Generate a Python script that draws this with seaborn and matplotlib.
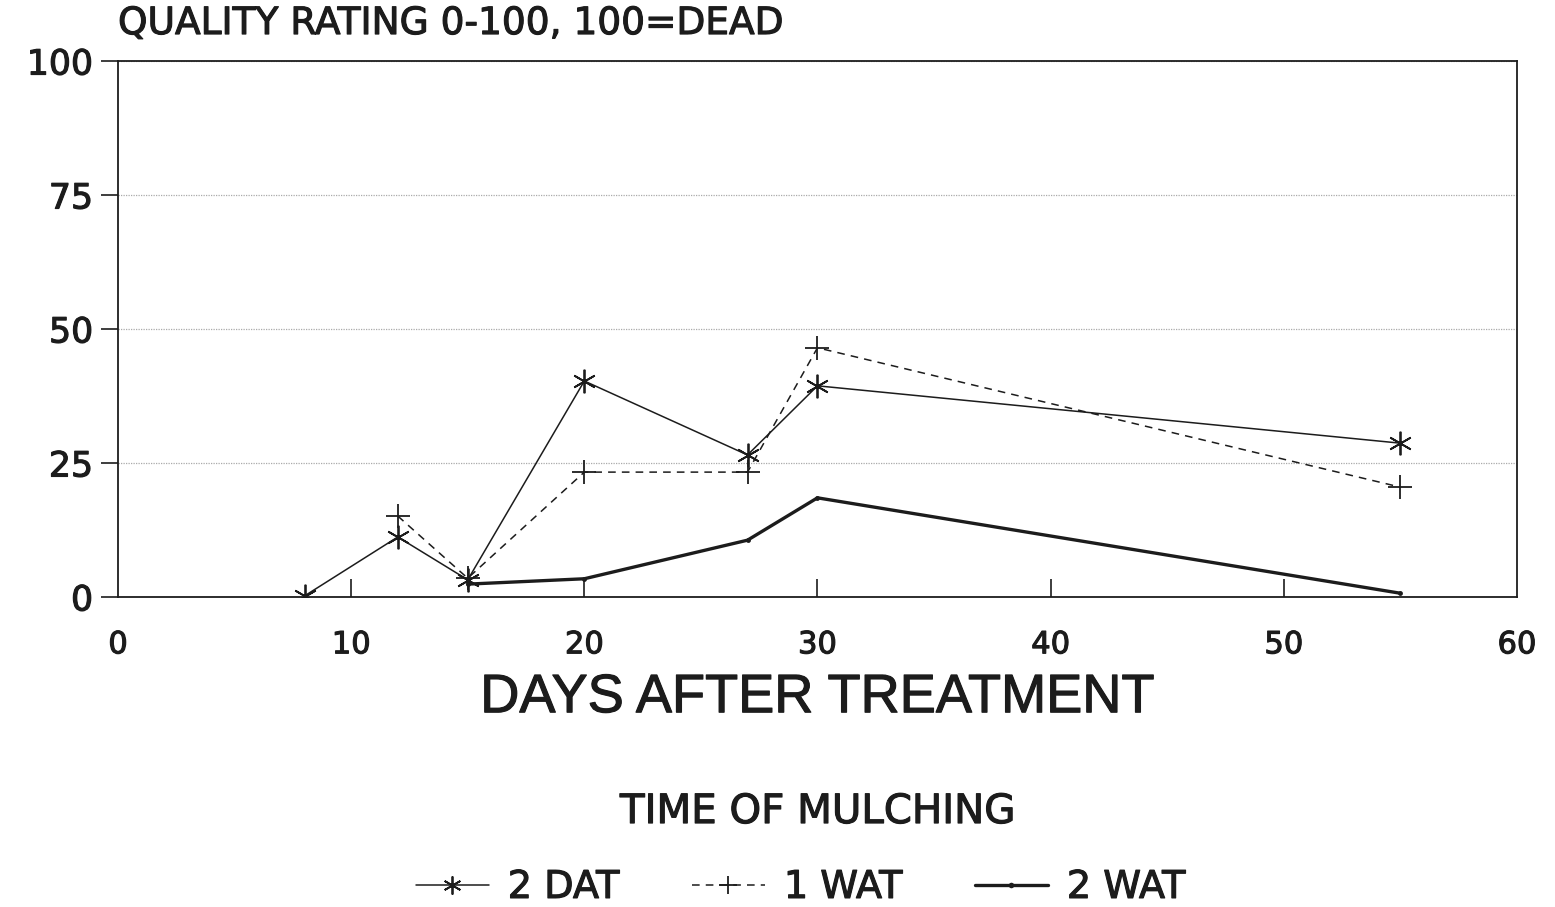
import matplotlib
matplotlib.use("Agg")
import matplotlib.pyplot as plt
import matplotlib.patheffects as pe
import seaborn as sns

# Data
days_2dat = [8, 12, 15, 20, 27, 30, 55]
rating_2dat = [0.2, 11.2, 3.2, 40.3, 26.5, 39.4, 28.7]

days_1wat = [12, 15, 20, 27, 30, 55]
rating_1wat = [15.1, 3.5, 23.3, 23.3, 46.5, 20.5]

days_2wat = [15, 20, 27, 30, 55]
rating_2wat = [2.4, 3.4, 10.6, 18.5, 0.7]

x_ticks = [0, 10, 20, 30, 40, 50, 60]
y_ticks = [0, 25, 50, 75, 100]

ink = "#1c1c1c"
sns.set_theme(style="white")
plt.rcParams['font.family'] = ['DejaVu Sans']
heavy = [pe.withStroke(linewidth=0.8, foreground=ink)]

fig, ax = plt.subplots(figsize=(15.55, 9.07), dpi=100)
fig.subplots_adjust(left=0.0759, right=0.9755, top=0.9327, bottom=0.3418)

sns.lineplot(x=days_2dat, y=rating_2dat, ax=ax, color=ink, lw=1.1,
             marker=(6, 2, 0), markersize=17, markeredgewidth=1.3,
             markeredgecolor=ink, label="2 DAT")
sns.lineplot(x=days_1wat, y=rating_1wat, ax=ax, color=ink, lw=1.1,
             linestyle=(0, (5, 4)), marker="+", markersize=17,
             markeredgewidth=1.3, markeredgecolor=ink, label="1 WAT")
sns.lineplot(x=days_2wat, y=rating_2wat, ax=ax, color=ink, lw=2.4,
             marker="o", markersize=3.5, markeredgewidth=0,
             label="2 WAT")

ax.set_xlim(0, 60)
ax.set_ylim(0, 100)
ax.set_xticks(x_ticks)
ax.set_yticks(y_ticks)
ax.tick_params(axis="x", direction="in", length=13, width=1.2, color=ink,
               labelsize=22, pad=24, bottom=True)
ax.tick_params(axis="y", direction="out", length=12, width=1.2, color=ink,
               labelsize=25, pad=6, left=True)
for lbl in ax.get_xticklabels() + ax.get_yticklabels():
    lbl.set_color(ink)
    lbl.set_path_effects(heavy)
# no inward tick marks at the ends
ticks = ax.xaxis.get_major_ticks()
ticks[0].tick1line.set_visible(False)
ticks[-1].tick1line.set_visible(False)

for s in ax.spines.values():
    s.set_color(ink)
    s.set_linewidth(1.3)

ax.yaxis.grid(True, linestyle=(0, (1, 1)), color="#aaaaaa", lw=0.9)
ax.xaxis.grid(False)

xl = ax.set_xlabel("DAYS AFTER TREATMENT", fontsize=39, color=ink,
                   labelpad=10, family="Liberation Sans")
xl.set_path_effects(heavy)
ax.set_ylabel("")
t = fig.text(0.0759, 0.9735, "QUALITY RATING 0-100, 100=DEAD", fontsize=27,
             color=ink, ha="left", va="center")
t.set_path_effects(heavy)

ax.get_legend().remove()
handles, labels = ax.get_legend_handles_labels()
lt = fig.text(0.526, 0.1047, "TIME OF MULCHING", fontsize=29, color=ink,
              ha="center", va="center")
lt.set_path_effects(heavy)
leg = fig.legend(handles, labels, loc="center", bbox_to_anchor=(0.515, 0.021),
                 ncol=3, frameon=False, handlelength=1.9,
                 columnspacing=1.9, handletextpad=0.5,
                 prop={"size": 27.5})
for h, ms in zip(leg.legend_handles, [13, 13, 4]):
    h.set_markersize(ms)
for txt in leg.get_texts():
    txt.set_color(ink)
    txt.set_path_effects(heavy)

fig.savefig("out.png", dpi=100)
